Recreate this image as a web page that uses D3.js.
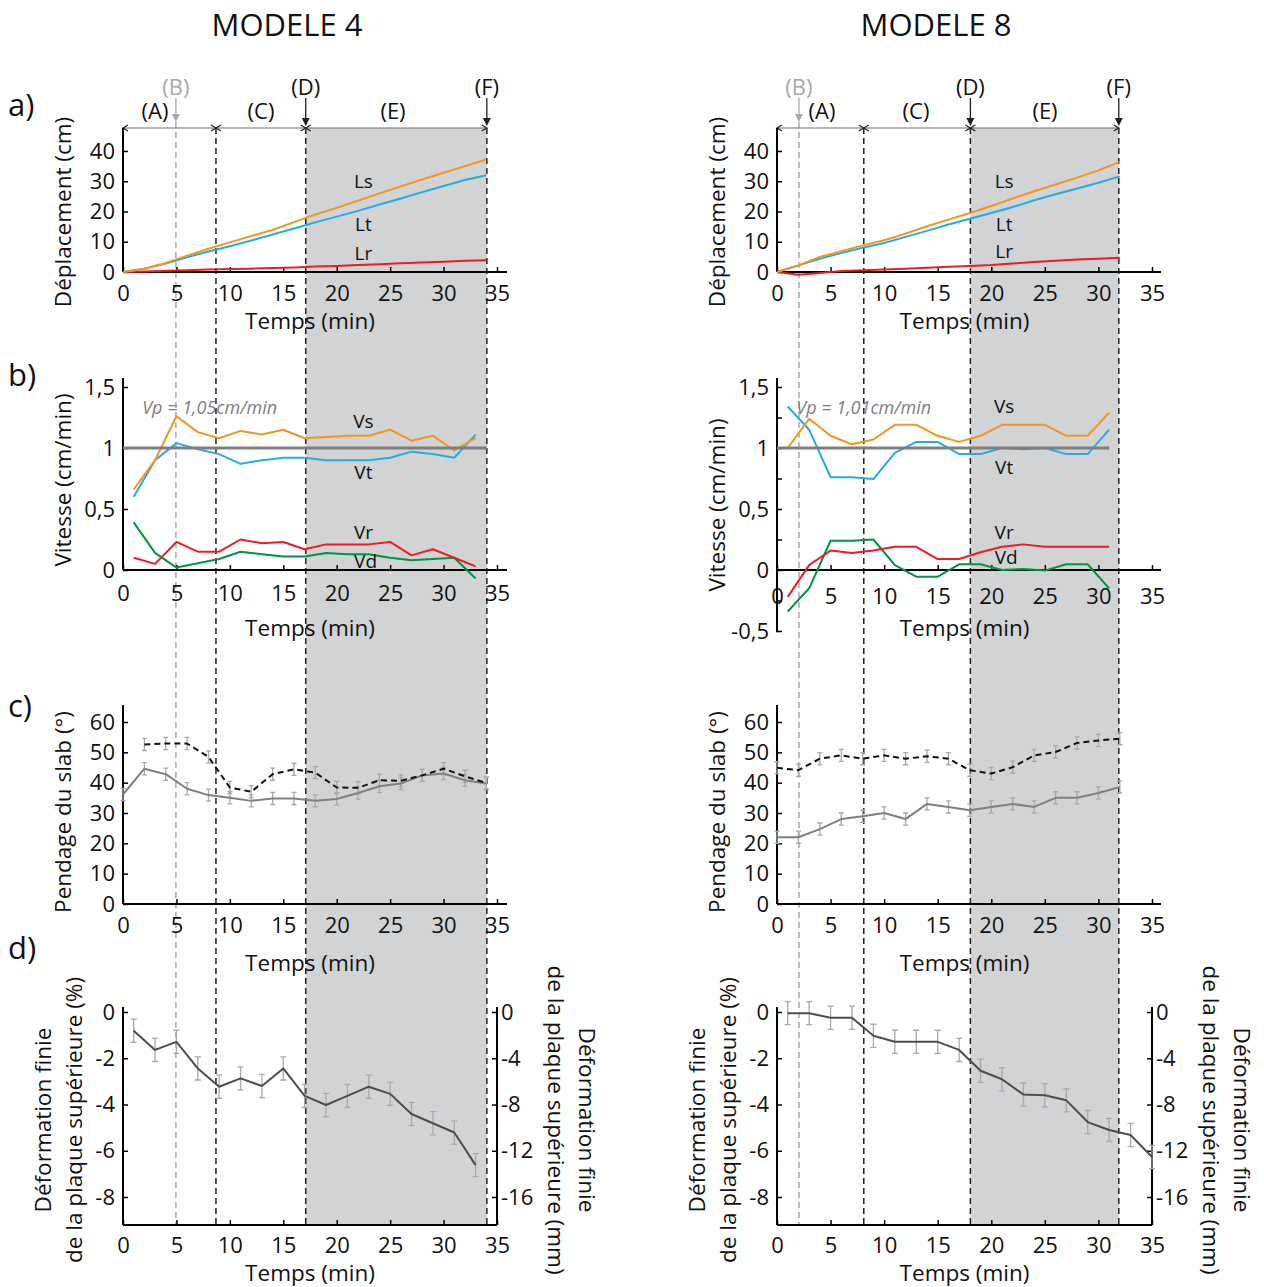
<!DOCTYPE html>
<html><head><meta charset="utf-8">
<script src="https://cdn.jsdelivr.net/npm/d3@7"></script>
<style>body{margin:0;background:#fff}</style>
</head><body><script>
// ---------------- DATA ----------------
const xTickVals = [0, 5, 10, 15, 20, 25, 30, 35];
const phaseNames = ['B', 'C', 'D', 'F'];
const phaseTimesM4 = [4.95, 8.7, 17.1, 34.05];
const phaseTimesM8 = [2.05, 8.1, 18.05, 31.9];
const segmentNames = ['(A)', '(C)', '(E)'];

// a) Déplacement (cm)
const timesA_M4 = [0,2,4,6,8,10,12,14,16,18,20,22,24,26,28,30,32,34];
const lsM4 = [0,1.1,3.0,5.4,7.7,9.8,11.9,13.9,16.5,19.0,21.2,23.6,26.0,28.3,30.6,32.8,35.0,37.2];
const ltM4 = [0,1.1,2.8,4.9,6.8,8.5,10.4,12.4,14.4,16.4,18.3,20.2,22.3,24.3,26.4,28.4,30.4,32.0];
const lrM4 = [0,0.2,0.4,0.6,0.8,1.0,1.1,1.3,1.5,1.8,2.0,2.3,2.6,2.9,3.1,3.4,3.7,3.9];
const timesA_M8 = [0,2,4,6,8,10,12,14,16,18,20,22,24,26,28,30,32];
const lsM8 = [0,2.2,5.0,6.9,8.8,10.5,12.7,15.1,17.3,19.5,21.8,24.3,26.7,28.9,31.2,33.6,36.4];
const ltM8 = [0,2.2,4.4,6.3,8.0,9.6,11.6,13.6,15.7,17.6,19.5,21.5,23.7,25.7,27.6,29.5,31.6];
const lrM8 = [0,-0.9,-0.3,0.3,0.55,0.8,1.1,1.4,1.7,2.0,2.3,2.8,3.3,3.7,4.1,4.4,4.7];

// b) Vitesse (cm/min)
const timesV_M4 = [1,3,5,7,9,11,13,15,17,19,21,23,25,27,29,31,33];
const vsM4 = [0.66,0.90,1.26,1.13,1.08,1.14,1.11,1.15,1.08,1.09,1.10,1.10,1.15,1.06,1.10,0.98,1.08];
const vtM4 = [0.60,0.90,1.04,0.99,0.95,0.87,0.90,0.92,0.92,0.90,0.90,0.90,0.92,0.97,0.95,0.92,1.11];
const vrM4 = [0.10,0.05,0.23,0.15,0.15,0.25,0.22,0.23,0.17,0.21,0.21,0.21,0.23,0.12,0.17,0.10,0.03];
const vdM4 = [0.39,0.14,0.02,0.055,0.09,0.15,0.13,0.11,0.11,0.14,0.13,0.13,0.10,0.08,0.09,0.10,-0.07];
const timesV_M8 = [1,3,5,7,9,11,13,15,17,19,21,23,25,27,29,31];
const vsM8 = [1.00,1.24,1.10,1.03,1.07,1.19,1.19,1.10,1.05,1.10,1.19,1.19,1.19,1.10,1.10,1.29];
const vtM8 = [1.34,1.15,0.76,0.76,0.745,0.96,1.05,1.05,0.95,0.95,1.00,0.99,1.00,0.95,0.95,1.15];
const vrM8 = [-0.22,0.04,0.16,0.14,0.16,0.19,0.19,0.09,0.09,0.145,0.19,0.21,0.19,0.19,0.19,0.19];
const vdM8 = [-0.34,-0.15,0.24,0.24,0.25,0.04,-0.055,-0.055,0.047,0.047,0.0,0.008,-0.005,0.047,0.047,-0.15];
const vpLabelM4 = 'Vp = 1,05cm/min';
const vpLabelM8 = 'Vp = 1,01cm/min';

// c) Pendage du slab (°)
const timesPS_M4 = [0,2,4,6,8,10,12,14,16,18,20,22,24,26,28,30,32,34];
const pSolidM4 = [36.1,44.6,42.8,38.0,35.9,35.0,34.0,34.8,34.8,34.0,34.6,36.6,38.8,39.7,42.4,43.0,40.8,39.7];
const timesPD_M4 = [2,4,6,8,10,12,14,16,18,20,22,24,26,28,30,32,34];
const pDashM4 = [52.6,52.9,52.9,48.5,38.4,37.0,42.8,44.4,43.3,38.4,38.3,40.8,40.6,42.4,44.6,42.1,39.9];
const timesPS_M8 = [0,2,4,6,8,10,12,14,16,18,20,22,24,26,28,30,32];
const pSolidM8 = [22.0,22.0,24.7,28.0,28.9,30.0,28.0,33.0,32.0,30.9,32.0,33.0,32.0,35.0,35.0,36.6,38.6];
const timesPD_M8 = [0,2,4,6,8,10,12,14,16,18,20,22,24,26,28,30,32];
const pDashM8 = [44.9,44.1,47.9,49.0,47.9,49.0,47.9,48.7,47.9,44.1,43.0,45.1,49.0,50.1,53.1,53.9,54.5];

// d) Déformation finie (%)
const timesD_M4 = [1,3,5,7,9,11,13,15,17,19,21,23,25,27,29,31,33];
const defM4 = [-0.81,-1.64,-1.29,-2.44,-3.23,-2.87,-3.20,-2.44,-3.63,-4.02,-3.63,-3.23,-3.54,-4.41,-4.81,-5.21,-6.62];
const timesD_M8 = [1,3,5,7,9,11,13,15,17,19,21,23,25,27,29,31,33,35];
const defM8 = [-0.05,-0.05,-0.25,-0.25,-1.03,-1.29,-1.29,-1.29,-1.64,-2.54,-2.91,-3.57,-3.60,-3.82,-4.76,-5.10,-5.32,-6.27];

// ---------------- DRAWING ----------------
const FONT = '"Open Sans", sans-serif';
const TICK = 22, TITLE = 22.5;
const C = {orange:'#f7941d', blue:'#29abe2', red:'#ed1c24', green:'#009444', grey:'#808080', shade:'#d1d3d4', ink:'#111'};
const svg = d3.select('body').append('svg').attr('width',1264).attr('height',1287).style('font-family', FONT);

function txt(x, y, s, o = {}) {
  const t = svg.append('text').attr('x', x).attr('y', y).attr('dy', '0.35em')
    .attr('text-anchor', o.anchor || 'middle').attr('font-size', o.size || TITLE)
    .attr('fill', o.fill || C.ink).text(s);
  if (o.italic) t.attr('font-style', 'italic');
  if (o.rotate) t.attr('transform', `rotate(${o.rotate},${x},${y})`);
  return t;
}
const fmt = d => String(d).replace('.', ',');

function yAxis(ys, x, ticks, labelTicks, yTop, yBot, side = 'left', labelFmt = fmt) {
  const ax = (side === 'left' ? d3.axisLeft(ys) : d3.axisRight(ys)).tickValues(ticks).tickSize(-5).tickSizeOuter(0)
    .tickFormat(d => labelTicks.includes(d) ? labelFmt(d) : '');
  const g = svg.append('g').attr('transform', `translate(${x},0)`).call(ax)
    .attr('font-family', FONT).attr('font-size', TICK);
  g.select('.domain').remove();
  g.selectAll('.tick line').attr('stroke', '#000').attr('stroke-width', 1.5);
  g.selectAll('.tick text').attr('fill', C.ink).attr('x', side === 'left' ? -8 : 4);
  svg.append('line').attr('x1', x).attr('x2', x).attr('y1', yTop).attr('y2', yBot).attr('stroke', '#000').attr('stroke-width', 2);
}
function xAxis(xs, y, labelY, xEnd) {
  const ax = d3.axisBottom(xs).tickValues(xTickVals).tickSize(-5).tickSizeOuter(0).tickFormat(d => d);
  const g = svg.append('g').attr('transform', `translate(0,${y})`).call(ax)
    .attr('font-family', FONT).attr('font-size', TICK);
  g.select('.domain').remove();
  g.selectAll('.tick line').attr('stroke', '#000').attr('stroke-width', 1.5);
  g.selectAll('.tick text').attr('fill', C.ink).attr('y', labelY - y).attr('dy', '0.35em');
  svg.append('line').attr('x1', xs(0)).attr('x2', xEnd).attr('y1', y).attr('y2', y).attr('stroke', '#000').attr('stroke-width', 2);
}
function series(xs, ys, times, vals, color, width = 2, dash = null) {
  const line = d3.line().x(d => xs(d[0])).y(d => ys(d[1]));
  const p = svg.append('path').datum(d3.zip(times, vals)).attr('d', line)
    .attr('fill', 'none').attr('stroke', color).attr('stroke-width', width).attr('stroke-linejoin', 'round');
  if (dash) p.attr('stroke-dasharray', dash);
}
function errBars(xs, ys, times, vals, e, cap) {
  svg.append('g').selectAll('path').data(d3.zip(times, vals)).join('path')
    .attr('d', d => { const x = xs(d[0]), a = ys(d[1] - e), b = ys(d[1] + e);
      return `M${x - cap},${a}H${x + cap}M${x},${a}V${b}M${x - cap},${b}H${x + cap}`; })
    .attr('fill', 'none').attr('stroke', '#a7a9ac').attr('stroke-width', 1.3);
}

const cols = [
  {title: 'MODELE 4', titleX: 287, x0: 123, x1: 497, phases: phaseTimesM4, segLabelX: [155, 261, 393],
   A: [timesA_M4, lsM4, ltM4, lrM4], aLab: [[22.5, 30], [22.5, 15.9], [22.5, 6.3]],
   V: [timesV_M4, vsM4, vtM4, vrM4, vdM4], vLab: [[22.5, 1.22], [22.5, 0.80], [22.5, 0.31], [22.7, 0.07]],
   vp: vpLabelM4, vpEnd: 34.05, bBottom: 0, bTicks: [0, 0.5, 1, 1.5], bTitleY: 480, bLabelY: 593,
   P: [timesPS_M4, pSolidM4, timesPD_M4, pDashM4], D: [timesD_M4, defM4]},
  {title: 'MODELE 8', titleX: 936, x0: 777, x1: 1152, phases: phaseTimesM8, segLabelX: [822, 916, 1045],
   A: [timesA_M8, lsM8, ltM8, lrM8], aLab: [[21.2, 30], [21.2, 15.9], [21.2, 6.9]],
   V: [timesV_M8, vsM8, vtM8, vrM8, vdM8], vLab: [[21.2, 1.34], [21.2, 0.84], [21.2, 0.31], [21.4, 0.10]],
   vp: vpLabelM8, vpEnd: 31, bBottom: -0.51, bTicks: [-0.5, -0.25, 0, 0.25, 0.5, 0.75, 1, 1.25, 1.5], bTitleY: 505, bLabelY: 596,
   P: [timesPS_M8, pSolidM8, timesPD_M8, pDashM8], D: [timesD_M8, defM8]}
];

function drawColumn(c) {
  const xs = d3.scaleLinear().domain([0, 35]).range([c.x0, c.x1]);
  const [tB, tC, tD, tF] = c.phases;
  const xB = xs(tB), xC = xs(tC), xD = xs(tD), xF = xs(tF);
  const xEnd = c.x0 + 384;

  svg.append('rect').attr('x', xD).attr('y', 128).attr('width', xF - xD).attr('height', 1225 - 128).attr('fill', C.shade);
  [[xB, 122, '#a7a9ac'], [xC, 128, '#231f20'], [xD, 128, '#231f20'], [xF, 128, '#231f20']].forEach(([x, y0, col]) => {
    svg.append('line').attr('x1', x).attr('x2', x).attr('y1', y0).attr('y2', 1225)
      .attr('stroke', col).attr('stroke-width', 1.5).attr('stroke-dasharray', '6,4');
  });

  txt(c.titleX, 25, c.title, {size: 31});

  const yb = 128;
  svg.append('line').attr('x1', c.x0).attr('x2', xF).attr('y1', yb).attr('y2', yb).attr('stroke', '#6d6e71').attr('stroke-width', 1.2);
  const heads = [[c.x0, 1], [xC, -1], [xC, 1], [xD, -1], [xD, 1], [xF, -1]];
  heads.forEach(([x, dir]) => {
    svg.append('path').attr('d', `M${x + 5 * dir},${yb - 3}L${x},${yb}L${x + 5 * dir},${yb + 3}`)
      .attr('fill', 'none').attr('stroke', '#231f20').attr('stroke-width', 1.2);
  });
  [[xB, 122, '#a7a9ac', '(B)'], [xD, 126, '#231f20', '(D)'], [xF, 126, '#231f20', '(F)']].forEach(([x, tip, col, lab]) => {
    svg.append('line').attr('x1', x).attr('x2', x).attr('y1', 98).attr('y2', tip - 6).attr('stroke', col).attr('stroke-width', 1.3);
    svg.append('path').attr('d', `M${x - 4},${tip - 8}L${x + 4},${tip - 8}L${x},${tip}Z`).attr('fill', col);
    txt(x, 87, lab, {size: 22, fill: col === '#a7a9ac' ? '#a7a9ac' : C.ink});
  });
  segmentNames.forEach((s, i) => txt(c.segLabelX[i], 111, s, {size: 22}));

  // ---- panel a
  const ya = d3.scaleLinear().domain([0, 47.6]).range([272, 128]);
  yAxis(ya, c.x0, [0, 10, 20, 30, 40], [0, 10, 20, 30, 40], 128, 272);
  xAxis(xs, 272, 293, xEnd);
  txt((c.x0 + c.x1) / 2, 321, 'Temps (min)');
  txt(c.x0 - 60, 212, 'Déplacement (cm)', {rotate: -90});
  const [tA, ls, lt, lr] = c.A;
  series(xs, ya, tA, lr, C.red);
  series(xs, ya, tA, lt, C.blue);
  series(xs, ya, tA, ls, C.orange);
  ['Ls', 'Lt', 'Lr'].forEach((s, i) => txt(xs(c.aLab[i][0]), ya(c.aLab[i][1]), s, {size: 19}));

  // ---- panel b
  const yv = d3.scaleLinear().domain([0, 1]).range([570, 448]);
  yAxis(yv, c.x0, c.bTicks, [-0.5, 0, 0.5, 1, 1.5], 378, yv(c.bBottom));
  xAxis(xs, 570, c.bLabelY, xEnd);
  txt((c.x0 + c.x1) / 2, 628, 'Temps (min)');
  txt(c.x0 - 60, c.bTitleY, 'Vitesse (cm/min)', {rotate: -90});
  const [tV, vs, vt, vr, vd] = c.V;
  series(xs, yv, tV, vd, C.green);
  series(xs, yv, tV, vr, C.red);
  series(xs, yv, tV, vt, C.blue);
  series(xs, yv, tV, vs, C.orange);
  svg.append('line').attr('x1', c.x0).attr('x2', xs(c.vpEnd)).attr('y1', yv(1)).attr('y2', yv(1))
    .attr('stroke', '#7f7f7f').attr('stroke-width', 3);
  txt(xs(1.8), yv(1.33), c.vp, {size: 18, italic: true, anchor: 'start', fill: '#808080'});
  ['Vs', 'Vt', 'Vr', 'Vd'].forEach((s, i) => txt(xs(c.vLab[i][0]), yv(c.vLab[i][1]), s, {size: 19}));

  // ---- panel c
  const yp = d3.scaleLinear().domain([0, 60]).range([904, 722]);
  yAxis(yp, c.x0, [0, 10, 20, 30, 40, 50, 60], [0, 10, 20, 30, 40, 50, 60], 705, 904);
  xAxis(xs, 904, 925, xEnd);
  txt((c.x0 + c.x1) / 2, 963, 'Temps (min)');
  txt(c.x0 - 60, 812, 'Pendage du slab (°)', {rotate: -90});
  const [tPS, pS, tPD, pD] = c.P;
  errBars(xs, yp, tPS, pS, 2, 2.5);
  errBars(xs, yp, tPD, pD, 2, 2.5);
  series(xs, yp, tPS, pS, C.grey, 2);
  series(xs, yp, tPD, pD, '#111', 2, '6,4');

  // ---- panel d
  const yd = d3.scaleLinear().domain([0, -8]).range([1012, 1197]);
  const ymm = d3.scaleLinear().domain([0, -16]).range([1012, 1197]);
  const xR = xs(35);
  yAxis(yd, c.x0, [0, -2, -4, -6, -8], [0, -2, -4, -6, -8], 1007, 1225, 'left', d => d);
  yAxis(ymm, xR, [0, -4, -8, -12, -16], [0, -4, -8, -12, -16], 1007, 1225, 'right', d => d);
  xAxis(xs, 1225, 1245, xR);
  txt((c.x0 + c.x1) / 2, 1273, 'Temps (min)');
  txt(c.x0 - 80, 1120, 'Déformation finie', {rotate: -90});
  txt(c.x0 - 49, 1120, 'de la plaque supérieure (%)', {rotate: -90});
  txt(xR + 90, 1120, 'Déformation finie', {rotate: 90});
  txt(xR + 59, 1120, 'de la plaque supérieure (mm)', {rotate: 90});
  const [tDd, dv] = c.D;
  errBars(xs, yd, tDd, dv, 0.5, 3);
  series(xs, yd, tDd, dv, '#4d4d4d', 2);
}
cols.forEach(drawColumn);

[['a)', 105], ['b)', 375], ['c)', 706], ['d)', 948]].forEach(([s, y]) => txt(8, y, s, {size: 31, anchor: 'start'}));
</script></body></html>
